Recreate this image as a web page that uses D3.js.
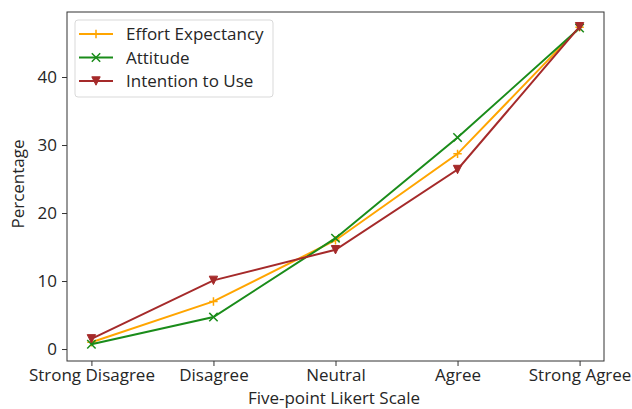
<!DOCTYPE html>
<html><head><meta charset="utf-8">
<script src="https://cdn.jsdelivr.net/npm/d3@7"></script>
<style>body{margin:0;background:#fff;}svg{display:block;font-family:"Open Sans",sans-serif;}</style>
</head><body><svg id="c" width="632" height="409"></svg>
<script>
const categories = ["Strong Disagree","Disagree","Neutral","Agree","Strong Agree"];
const effortExpectancy = [1.0, 7.0, 16.0, 28.7, 47.3];
const attitude = [0.7, 4.7, 16.3, 31.1, 47.2];
const intentionToUse = [1.5, 10.1, 14.6, 26.4, 47.4];
const yTicks = [0, 10, 20, 30, 40];
const seriesNames = ["Effort Expectancy","Attitude","Intention to Use"];

const series = [
  {name: seriesNames[0], values: effortExpectancy, color: "#FFA500", marker: "plus"},
  {name: seriesNames[1], values: attitude, color: "#1a8c1a", marker: "x"},
  {name: seriesNames[2], values: intentionToUse, color: "#A52A2A", marker: "tri"}
];

const FONT = "'Open Sans', sans-serif";
const FS = "17px";
const svg = d3.select("#c");
const L = 67, R = 604, T = 12, B = 361;
const x = d3.scaleLinear().domain([-0.2, 4.2]).range([L, R]);
const y = d3.scaleLinear().domain([-1.76, 49.56]).range([B, T]);
const textColor = "#262626";

// axes
const xAxis = svg.append("g").attr("transform", `translate(0,${B})`)
  .call(d3.axisBottom(x).tickValues(d3.range(categories.length)).tickFormat(i => categories[i]).tickSize(5).tickPadding(3));
const yAxis = svg.append("g").attr("transform", `translate(${L},0)`)
  .call(d3.axisLeft(y).tickValues(yTicks).tickSize(5).tickPadding(5));
[xAxis, yAxis].forEach(a => {
  a.select(".domain").remove();
  a.selectAll("line").attr("stroke", "#333");
  a.selectAll("text").attr("fill", textColor).style("font-size", FS).style("font-family", FONT);
});
svg.append("rect").attr("x", L).attr("y", T).attr("width", R - L).attr("height", B - T)
  .attr("fill", "none").attr("stroke", "#333").attr("stroke-width", 1);

// labels
svg.append("text").attr("x", 334).attr("y", 404).attr("text-anchor", "middle")
  .attr("fill", textColor).style("font-size", FS).style("font-family", FONT).text("Five-point Likert Scale");
svg.append("text").attr("transform", `translate(24,184) rotate(-90)`).attr("text-anchor", "middle")
  .attr("fill", textColor).style("font-size", FS).style("font-family", FONT).text("Percentage");

function drawMarker(g, type, cx, cy, color) {
  const s = 4.2;
  if (type === "plus") {
    g.append("path").attr("d", `M${cx - s},${cy}H${cx + s}M${cx},${cy - s}V${cy + s}`)
      .attr("stroke", color).attr("stroke-width", 1.5).attr("fill", "none");
  } else if (type === "x") {
    g.append("path").attr("d", `M${cx - s},${cy - s}L${cx + s},${cy + s}M${cx - s},${cy + s}L${cx + s},${cy - s}`)
      .attr("stroke", color).attr("stroke-width", 1.5).attr("fill", "none");
  } else {
    g.append("path").attr("d", `M${cx - s},${cy - s}L${cx + s},${cy - s}L${cx},${cy + s}Z`)
      .attr("fill", color).attr("stroke", color).attr("stroke-width", 1);
  }
}

const line = d3.line().x((d, i) => x(i)).y(d => y(d));
series.forEach(s => {
  const g = svg.append("g");
  g.append("path").datum(s.values).attr("d", line).attr("fill", "none")
    .attr("stroke", s.color).attr("stroke-width", 2);
  s.values.forEach((v, i) => drawMarker(g, s.marker, x(i), y(v), s.color));
});

// legend
const lg = svg.append("g");
lg.append("rect").attr("x", 75).attr("y", 20).attr("width", 198).attr("height", 77).attr("rx", 3)
  .attr("fill", "#fff").attr("fill-opacity", 0.8).attr("stroke", "#d9d9d9");
series.forEach((s, i) => {
  const ly = 34 + i * 23.5;
  lg.append("line").attr("x1", 79).attr("x2", 113).attr("y1", ly).attr("y2", ly)
    .attr("stroke", s.color).attr("stroke-width", 2);
  drawMarker(lg, s.marker, 96, ly, s.color);
  lg.append("text").attr("x", 126).attr("y", ly + 6).attr("fill", textColor)
    .style("font-size", FS).style("font-family", FONT).text(s.name);
});
</script></body></html>
